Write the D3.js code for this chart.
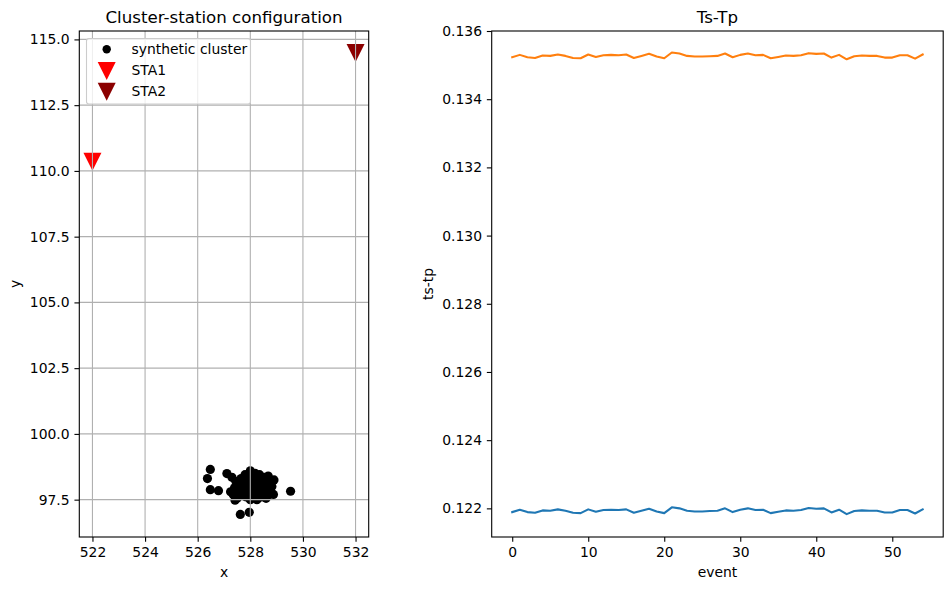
<!DOCTYPE html>
<html>
<head>
<meta charset="utf-8">
<script src="https://cdn.jsdelivr.net/npm/d3@7"></script>
<style>
  body { margin: 0; background: #fff; }
  text { font-family: "DejaVu Sans", sans-serif; fill: #000; }
</style>
</head>
<body>
<svg id="chart"></svg>
<script>
// Data: synthetic cluster event locations
const clusterX = [
  526.48, 526.37, 526.48, 526.79, 527.11, 527.62, 527.96, 529.53,
  527.35, 527.40, 527.45, 527.50, 527.55, 527.60, 527.65, 527.70, 527.72, 527.78,
  527.80, 527.85, 527.88, 527.92, 527.95, 528.00, 528.00, 528.02, 528.05, 528.08,
  528.10, 528.15, 528.18, 528.20, 528.25, 528.28, 528.30, 528.35, 528.38, 528.42,
  528.45, 528.50, 528.52, 528.55, 528.60, 528.65, 528.68, 528.72, 528.78, 528.82,
  528.88, 528.90, 527.25, 527.30, 527.42, 528.25, 528.60
];
const clusterY = [
  98.65, 98.30, 97.88, 97.84, 98.49, 96.94, 97.02, 97.82,
  97.70, 97.95, 98.20, 97.55, 97.85, 98.05, 98.30, 97.65, 98.15, 97.90,
  98.45, 97.60, 98.05, 98.25, 97.75, 98.60, 97.50, 98.00, 98.40, 97.80,
  98.15, 97.60, 98.50, 97.95, 98.30, 97.70, 98.10, 98.45, 97.85, 97.60,
  98.20, 98.00, 98.35, 97.75, 98.10, 97.90, 98.40, 97.70, 98.20, 98.00,
  97.70, 98.25, 97.80, 98.35, 97.48, 97.50, 97.55
];

// Stations
const stationNames = ["STA1", "STA2"];
const stationX = [522, 532];
const stationY = [110.35, 114.48];
const stationColors = ["#ff0000", "#8b0000"];

// Ts-Tp per event, one array per station
const tsTp1 = [
  0.12189, 0.12196, 0.12189, 0.12187, 0.12194, 0.12193, 0.12197, 0.12193, 0.12187, 0.12186,
  0.12197, 0.12190, 0.12195, 0.12196, 0.12195, 0.12197, 0.12187, 0.12193, 0.12199, 0.12191,
  0.12186, 0.12203, 0.12200, 0.12193, 0.12191, 0.12191, 0.12192, 0.12193, 0.12200, 0.12189,
  0.12196, 0.12200, 0.12195, 0.12196, 0.12186, 0.12190, 0.12194, 0.12193, 0.12195, 0.12201,
  0.12199, 0.12200, 0.12188, 0.12196, 0.12183, 0.12192, 0.12194, 0.12193, 0.12193, 0.12188,
  0.12188, 0.12195, 0.12195, 0.12185, 0.12197
];
const tsTp2 = [
  0.13523, 0.13530, 0.13523, 0.13521, 0.13528, 0.13527, 0.13531, 0.13527, 0.13521, 0.13520,
  0.13531, 0.13524, 0.13529, 0.13530, 0.13529, 0.13531, 0.13521, 0.13527, 0.13533, 0.13525,
  0.13520, 0.13537, 0.13534, 0.13527, 0.13525, 0.13525, 0.13526, 0.13527, 0.13534, 0.13523,
  0.13530, 0.13534, 0.13529, 0.13530, 0.13520, 0.13524, 0.13528, 0.13527, 0.13529, 0.13535,
  0.13533, 0.13534, 0.13522, 0.13530, 0.13517, 0.13526, 0.13528, 0.13527, 0.13527, 0.13522,
  0.13522, 0.13529, 0.13529, 0.13519, 0.13531
];
const lineColors = ["#1f77b4", "#ff7f0e"];

// Tick labels
const mapXTicks = [522, 524, 526, 528, 530, 532];
const mapYTicks = [97.5, 100.0, 102.5, 105.0, 107.5, 110.0, 112.5, 115.0];
const eventTicks = [0, 10, 20, 30, 40, 50];
const tsTpTicks = [0.122, 0.124, 0.126, 0.128, 0.130, 0.132, 0.134, 0.136];

// Layout
const width = 952;
const height = 590;
const fontSize = 13.9;
const tickLen = 4.86;
const tickPad = 4.86;

const svg = d3.select("#chart")
  .attr("width", width)
  .attr("height", height);

// Draw a boxed axes frame with ticks
function drawAxes(g, x, y, xTicks, yTicks, xFmt, yFmt) {
  const [x0, x1] = x.range();
  const [y0, y1] = y.range();

  g.append("g")
    .attr("transform", `translate(0,${y0})`)
    .call(d3.axisBottom(x).tickValues(xTicks).tickFormat(xFmt)
      .tickSize(tickLen).tickPadding(tickPad).tickSizeOuter(0))
    .call(a => a.select(".domain").remove())
    .call(a => a.selectAll("line").attr("stroke", "#000").attr("stroke-width", 1.1))
    .call(a => a.selectAll("text").attr("font-size", fontSize)
      .attr("font-family", "DejaVu Sans").attr("fill", "#000"));

  g.append("g")
    .attr("transform", `translate(${x0},0)`)
    .call(d3.axisLeft(y).tickValues(yTicks).tickFormat(yFmt)
      .tickSize(tickLen).tickPadding(tickPad).tickSizeOuter(0))
    .call(a => a.select(".domain").remove())
    .call(a => a.selectAll("line").attr("stroke", "#000").attr("stroke-width", 1.1))
    .call(a => a.selectAll("text").attr("font-size", fontSize)
      .attr("font-family", "DejaVu Sans").attr("fill", "#000"));

  g.append("rect")
    .attr("x", x0).attr("y", y1)
    .attr("width", x1 - x0).attr("height", y0 - y1)
    .attr("fill", "none")
    .attr("stroke", "#000")
    .attr("stroke-width", 1.1);
}

function triangleDown(cx, cy, s) {
  return `M${cx - s / 2},${cy - s / 2}L${cx + s / 2},${cy - s / 2}L${cx},${cy + s / 2}Z`;
}

// ---- Left panel: cluster-station configuration ----
const left = { x0: 79.3, x1: 368.7, y0: 537, y1: 31 };
const xMap = d3.scaleLinear().domain([521.5, 532.5]).range([left.x0, left.x1]);
const yMap = d3.scaleLinear().domain([96.08, 115.32]).range([left.y0, left.y1]);

const gL = svg.append("g");

gL.append("clipPath").attr("id", "clipL")
  .append("rect")
  .attr("x", left.x0).attr("y", left.y1)
  .attr("width", left.x1 - left.x0).attr("height", left.y0 - left.y1);

const plotL = gL.append("g").attr("clip-path", "url(#clipL)");

// Cluster points
plotL.selectAll(".ev")
  .data(d3.range(clusterX.length))
  .enter().append("circle")
  .attr("class", "ev")
  .attr("cx", i => xMap(clusterX[i]))
  .attr("cy", i => yMap(clusterY[i]))
  .attr("r", 4.6)
  .attr("fill", "#000");

// Stations
plotL.selectAll(".sta")
  .data(stationNames)
  .enter().append("path")
  .attr("class", "sta")
  .attr("d", (d, i) => triangleDown(xMap(stationX[i]), yMap(stationY[i]), 18))
  .attr("fill", (d, i) => stationColors[i]);

// Grid drawn over markers, like the reference
plotL.selectAll(".gx")
  .data(mapXTicks)
  .enter().append("line")
  .attr("x1", d => xMap(d)).attr("x2", d => xMap(d))
  .attr("y1", left.y0).attr("y2", left.y1)
  .attr("stroke", "#b0b0b0").attr("stroke-width", 1.1);

plotL.selectAll(".gy")
  .data(mapYTicks)
  .enter().append("line")
  .attr("y1", d => yMap(d)).attr("y2", d => yMap(d))
  .attr("x1", left.x0).attr("x2", left.x1)
  .attr("stroke", "#b0b0b0").attr("stroke-width", 1.1);

drawAxes(gL, xMap, yMap, mapXTicks, mapYTicks, d3.format("d"), d3.format(".1f"));

// Legend
const legend = gL.append("g");
legend.append("rect")
  .attr("x", 86.5).attr("y", 38.5)
  .attr("width", 164).attr("height", 65.5)
  .attr("rx", 2.5)
  .attr("fill", "#fff").attr("fill-opacity", 0.8)
  .attr("stroke", "#cccccc").attr("stroke-width", 1.1);

const legendLabels = ["synthetic cluster"].concat(stationNames);
legendLabels.forEach((label, i) => {
  const ly = 49.3 + i * 20.7;
  if (i === 0) {
    legend.append("circle").attr("cx", 106.7).attr("cy", ly).attr("r", 4.2).attr("fill", "#000");
  } else {
    legend.append("path")
      .attr("d", triangleDown(106.7, ly + 1, 18))
      .attr("fill", stationColors[i - 1]);
  }
  legend.append("text")
    .attr("x", 131.5).attr("y", ly + 5)
    .attr("font-size", fontSize)
    .text(label);
});

gL.append("text")
  .attr("x", (left.x0 + left.x1) / 2).attr("y", 22.7)
  .attr("text-anchor", "middle").attr("font-size", 16.67)
  .text("Cluster-station configuration");

gL.append("text")
  .attr("x", (left.x0 + left.x1) / 2).attr("y", 577)
  .attr("text-anchor", "middle").attr("font-size", fontSize)
  .text("x");

gL.append("text")
  .attr("transform", `translate(20,${(left.y0 + left.y1) / 2}) rotate(-90)`)
  .attr("text-anchor", "middle").attr("font-size", fontSize)
  .text("y");

// ---- Right panel: Ts-Tp ----
const right = { x0: 491.7, x1: 943.2, y0: 537, y1: 31 };
const xEv = d3.scaleLinear().domain([-2.7, 56.7]).range([right.x0, right.x1]);
const yTs = d3.scaleLinear().domain([0.12116, 0.13600]).range([right.y0, right.y1]);

const gR = svg.append("g");

const line = d3.line()
  .x((d, i) => xEv(i))
  .y(d => yTs(d));

gR.selectAll(".series")
  .data([tsTp1, tsTp2])
  .enter().append("path")
  .attr("class", "series")
  .attr("d", line)
  .attr("fill", "none")
  .attr("stroke", (d, i) => lineColors[i])
  .attr("stroke-width", 2.08)
  .attr("stroke-linejoin", "round")
  .attr("stroke-linecap", "square");

drawAxes(gR, xEv, yTs, eventTicks, tsTpTicks, d3.format("d"), d3.format(".3f"));

gR.append("text")
  .attr("x", (right.x0 + right.x1) / 2).attr("y", 22.7)
  .attr("text-anchor", "middle").attr("font-size", 16.67)
  .text("Ts-Tp");

gR.append("text")
  .attr("x", (right.x0 + right.x1) / 2).attr("y", 577)
  .attr("text-anchor", "middle").attr("font-size", fontSize)
  .text("event");

gR.append("text")
  .attr("transform", `translate(433,${(right.y0 + right.y1) / 2}) rotate(-90)`)
  .attr("text-anchor", "middle").attr("font-size", fontSize)
  .text("ts-tp");
</script>
</body>
</html>
